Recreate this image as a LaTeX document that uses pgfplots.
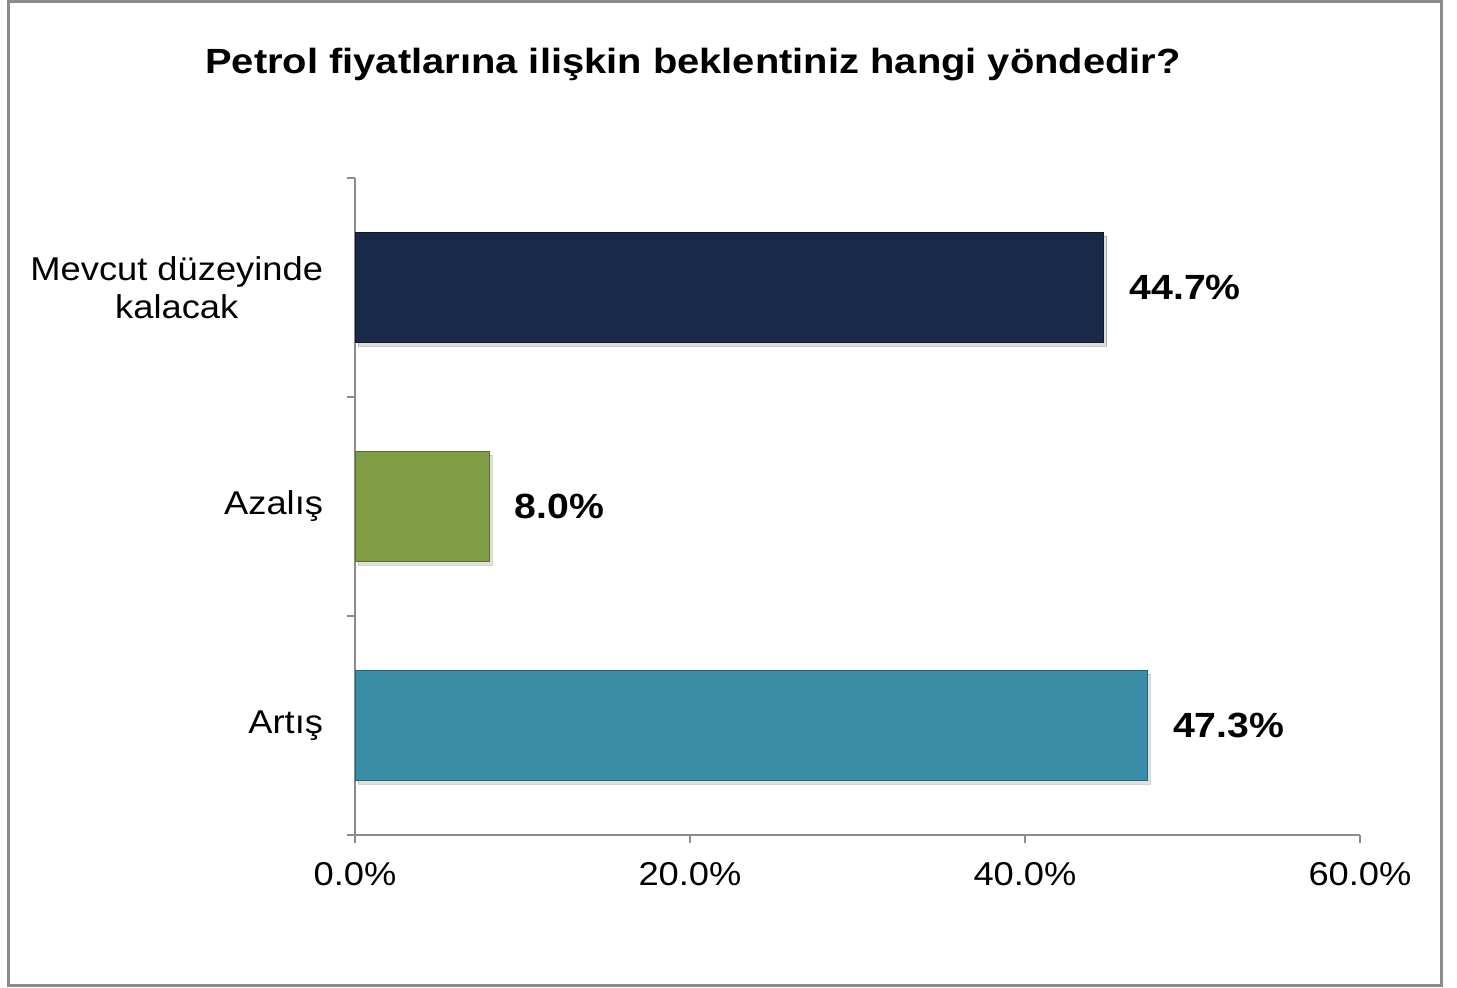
\documentclass[border=0pt]{standalone}
\usepackage{fontspec}
\setmainfont{Liberation Sans}
\usepackage{pgfplots}
\pgfplotsset{compat=1.18}
\usetikzlibrary{shadows}
\definecolor{navy}{HTML}{182A48}
\definecolor{olive}{HTML}{7F9E45}
\definecolor{teal}{HTML}{3A8DA6}
\definecolor{framegray}{HTML}{8C8C8C}
\begin{document}
\begin{tikzpicture}
% picture is 1457x988 px at 0.5pt per px
\useasboundingbox (0pt,0pt) rectangle (728.5pt,494pt);
\draw[framegray, line width=1.5pt] (4pt,1pt) rectangle (720.5pt,493pt);
\node[font=\fontsize{17.5}{20}\selectfont\bfseries, xscale=1.14] at (346.5pt,461.5pt) {Petrol fiyatlarına ilişkin beklentiniz hangi yöndedir?};
\begin{axis}[
  at={(177.5pt,76.5pt)}, anchor=south west,
  scale only axis, width=502.5pt, height=328.5pt,
  xmin=0, xmax=60, ymin=-0.5, ymax=2.5,
  xbar, bar width=55pt, bar shift=0pt,
  axis x line*=bottom, axis y line*=left,
  axis line style={-, draw=framegray, line width=0.8pt},
  tick style={draw=framegray, line width=0.8pt},
  tick align=outside, major tick length=4pt,
  xtick={0,20,40,60},
  xticklabel={\pgfmathprintnumber[fixed,fixed zerofill,precision=1]{\tick}\%},
  ytick={-0.5,0.5,1.5,2.5}, yticklabels={},
  extra y ticks={0,1,2},
  extra y tick labels={Artış,Azalış,{Mevcut düzeyinde\\kalacak}},
  extra y tick style={major tick length=0pt,
    yticklabel style={align=center, xshift=-11pt}},
  /pgf/number format/assume math mode=true,
  tick label style={font=\fontsize{16.5}{19}\selectfont, xscale=1.1},
  xticklabel style={yshift=-6pt},
  point meta=x,
  nodes near coords={\pgfmathprintnumber[fixed,fixed zerofill,precision=1]{\pgfplotspointmeta}\%},
  nodes near coords style={font=\fontsize{17.5}{20}\selectfont\bfseries, anchor=west, xshift=9pt, text=black, xscale=1.12},
  every axis plot/.append style={drop shadow={shadow xshift=1.5pt, shadow yshift=-2pt, opacity=0.25}},
  clip=false,
]
\addplot[fill=teal, draw=teal!70!black] coordinates {(47.3,0)};
\addplot[fill=olive, draw=olive!70!black] coordinates {(8.0,1)};
\addplot[fill=navy, draw=navy!60!black] coordinates {(44.7,2)};
\end{axis}
\end{tikzpicture}
\end{document}
